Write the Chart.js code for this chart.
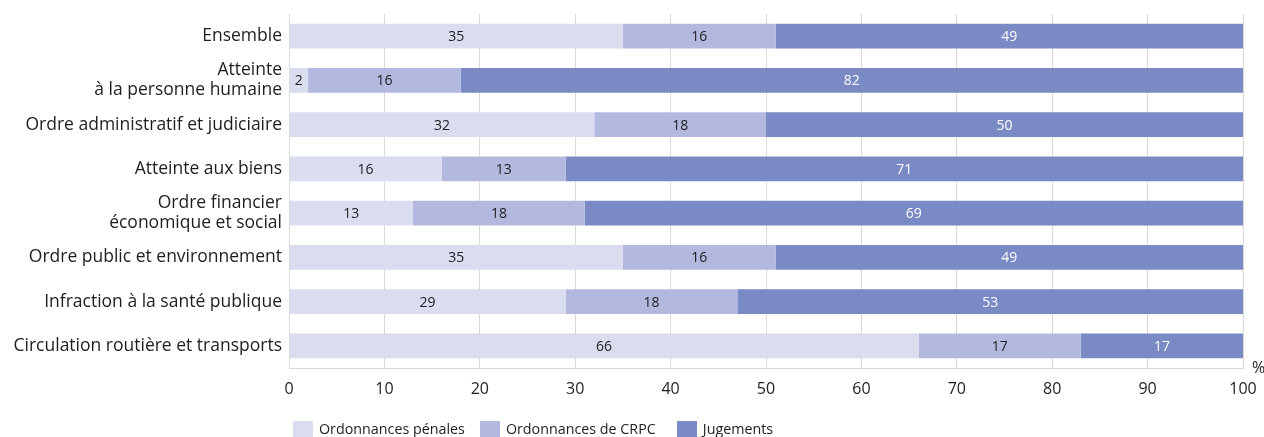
<!DOCTYPE html>
<html lang="fr">
<head>
<meta charset="utf-8">
<script src="https://cdn.jsdelivr.net/npm/chart.js@4"></script>
<style>
  body { margin: 0; background: #fff; font-family: "Open Sans", sans-serif; }
  .wrap { position: relative; width: 1264px; height: 437px; }
  .legend { position: absolute; left: 293px; top: 419px; display: flex; align-items: center; font-size: 14.3px; color: #1e1e1e; }
  .legend span.box { display: inline-block; width: 20px; height: 16px; margin-right: 6px; }
  .legend .item { display: flex; align-items: center; margin-right: 15px; }
  .legend .item:nth-child(2) { margin-right: 21px; }
</style>
</head>
<body>
<div class="wrap">
  <canvas id="chart" width="1264" height="437"></canvas>
  <div class="legend" id="legend"></div>
</div>
<script>
const categories = [
  'Ensemble',
  ['Atteinte', 'à la personne humaine'],
  'Ordre administratif et judiciaire',
  'Atteinte aux biens',
  ['Ordre financier', 'économique et social'],
  'Ordre public et environnement',
  'Infraction à la santé publique',
  'Circulation routière et transports'
];
const seriesNames = ['Ordonnances pénales', 'Ordonnances de CRPC', 'Jugements'];
const ordonnancesPenales = [35, 2, 32, 16, 13, 35, 29, 66];
const ordonnancesCrpc = [16, 16, 18, 13, 18, 16, 18, 17];
const jugements = [49, 82, 50, 71, 69, 49, 53, 17];
const xTicks = [0, 10, 20, 30, 40, 50, 60, 70, 80, 90, 100];

const colors = ['#dadcef', '#b3b8df', '#7a8ac4'];
const labelColors = ['#222', '#222', '#fff'];
const textColor = '#1e1e1e';
const fontFamily = '"Open Sans", sans-serif';

const valueLabels = {
  id: 'valueLabels',
  afterDatasetsDraw(chart) {
    const ctx = chart.ctx;
    ctx.save();
    ctx.font = '14px ' + fontFamily;
    ctx.textAlign = 'center';
    ctx.textBaseline = 'middle';
    chart.data.datasets.forEach((ds, i) => {
      chart.getDatasetMeta(i).data.forEach((bar, j) => {
        const x = (bar.x + bar.base) / 2;
        ctx.fillStyle = labelColors[i];
        ctx.fillText(ds.data[j], x, bar.y + 1);
      });
    });
    // unit
    const area = chart.chartArea;
    ctx.font = '16px ' + fontFamily;
    ctx.fillStyle = textColor;
    ctx.textAlign = 'left';
    ctx.fillText('%', area.right + 9, area.bottom);
    ctx.restore();
  }
};

new Chart(document.getElementById('chart'), {
  type: 'bar',
  data: {
    labels: categories,
    datasets: [ordonnancesPenales, ordonnancesCrpc, jugements].map((d, i) => ({
      label: seriesNames[i],
      data: d,
      backgroundColor: colors[i],
      barPercentage: 0.56,
      categoryPercentage: 1
    }))
  },
  options: {
    indexAxis: 'y',
    responsive: false,
    animation: false,
    layout: { padding: { left: 0, right: 21, top: 14, bottom: 33 } },
    plugins: { legend: { display: false }, tooltip: { enabled: false } },
    scales: {
      x: {
        stacked: true,
        min: 0,
        max: 100,
        afterBuildTicks: (scale) => { scale.ticks = xTicks.map(v => ({ value: v })); },
        afterFit: (scale) => {
          scale.height = 36;
          scale.paddingLeft = 0;
          scale.paddingRight = 0;
        },
        grid: { color: '#d9d9d9', drawTicks: false },
        border: { color: '#d9d9d9' },
        ticks: { padding: 12, color: textColor, font: { size: 16, family: fontFamily } }
      },
      y: {
        stacked: true,
        afterFit: (scale) => {
          scale.width = 289;
          scale.paddingTop = 0;
          scale.paddingBottom = 0;
        },
        grid: { display: false, drawTicks: false },
        border: { display: true, color: '#d9d9d9' },
        ticks: { padding: 7, color: textColor, font: { size: 17.5, family: fontFamily, lineHeight: 1.15 } }
      }
    }
  },
  plugins: [valueLabels]
});

const legend = document.getElementById('legend');
seriesNames.forEach((name, i) => {
  const item = document.createElement('div');
  item.className = 'item';
  item.innerHTML = '<span class="box" style="background:' + colors[i] + '"></span>' + name;
  legend.appendChild(item);
});
</script>
</body>
</html>
